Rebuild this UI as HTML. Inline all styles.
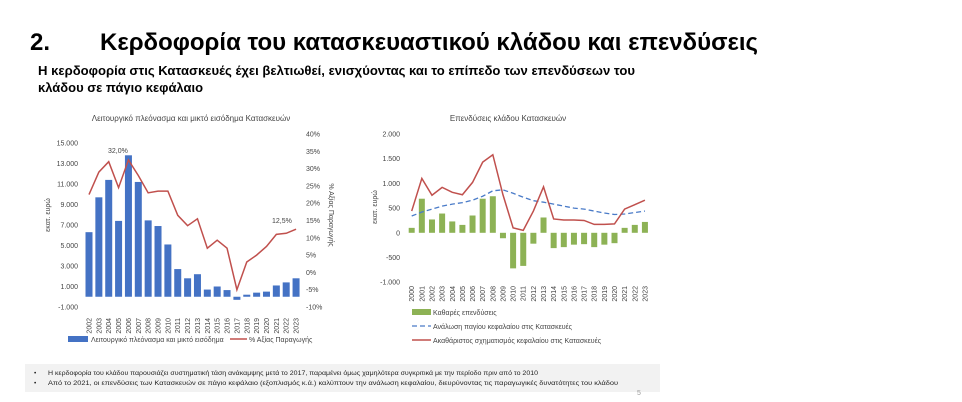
<!DOCTYPE html>
<html><head><meta charset="utf-8"><style>
html,body{margin:0;padding:0;background:#fff;}
svg{display:block;font-family:"Liberation Sans",sans-serif;}
</style></head><body>
<svg id="s" width="962" height="402" xmlns="http://www.w3.org/2000/svg">
<text x="30" y="50" font-size="24" font-weight="bold" fill="#000">2.</text>
<text x="100" y="50" font-size="24" font-weight="bold" fill="#000" textLength="658" lengthAdjust="spacingAndGlyphs">Κερδοφορία του κατασκευαστικού κλάδου και επενδύσεις</text>
<text x="38" y="75" font-size="12.5" font-weight="bold" fill="#000" textLength="597" lengthAdjust="spacingAndGlyphs">Η κερδοφορία στις Κατασκευές έχει βελτιωθεί, ενισχύοντας και το επίπεδο των επενδύσεων του</text>
<text x="38" y="92" font-size="12.5" font-weight="bold" fill="#000" textLength="165" lengthAdjust="spacingAndGlyphs">κλάδου σε πάγιο κεφάλαιο</text>
<text x="191" y="121" font-size="8" fill="#444" text-anchor="middle">Λειτουργικό πλεόνασμα και μικτό εισόδημα Κατασκευών</text>
<text x="508" y="121" font-size="8" fill="#444" text-anchor="middle">Επενδύσεις κλάδου Κατασκευών</text>
<rect x="25" y="364" width="635" height="28" fill="#f2f2f2"/>
<text x="34" y="375" font-size="6.5" fill="#222">•</text>
<text x="48" y="375" font-size="6.5" fill="#222" textLength="490" lengthAdjust="spacingAndGlyphs">Η κερδοφορία του κλάδου παρουσιάζει συστηματική τάση ανάκαμψης μετά το 2017, παραμένει όμως χαμηλότερα συγκριτικά με την περίοδο πριν από το 2010</text>
<text x="34" y="385" font-size="6.5" fill="#222">•</text>
<text x="48" y="385" font-size="6.5" fill="#222" textLength="570" lengthAdjust="spacingAndGlyphs">Από το 2021, οι επενδύσεις των Κατασκευών σε πάγιο κεφάλαιο (εξοπλισμός κ.ά.)  καλύπτουν την ανάλωση κεφαλαίου, διευρύνοντας τις παραγωγικές δυνατότητες του κλάδου</text>
<text x="637" y="395" font-size="7" fill="#999">5</text>
<g id="g"></g>
</svg>
<script>
var g=document.getElementById('g'),h='';
function t(x,y,s,a,extra){h+='<text x="'+x+'" y="'+y+'" font-size="7" fill="#444" text-anchor="'+(a||'start')+'" '+(extra||'')+'>'+s+'</text>';}
function fmt(v){var s=Math.abs(v).toString();if(Math.abs(v)>=1000)s=s.slice(0,-3)+'.'+s.slice(-3);return (v<0?'-':'')+s;}
var yL=function(v){return 143+(15000-v)/2000*20.5;};
var yR=function(p){return 134+(40-p)*3.46;};
for(var v=15000;v>=-1000;v-=2000)t(78,yL(v)+2.5,fmt(v),'end');
for(var p=40;p>=-10;p-=5)t(306,yR(p)+2.5,p+'%');
var b1=[6300,9700,11400,7400,13800,11200,7450,6900,5100,2700,1800,2200,700,1000,650,-300,200,400,500,1100,1400,1800];
var l1=[22.5,29,32,24.5,32.5,28,23,23.5,23.5,16.5,13.5,15.5,7,9.3,7,-5,3,5,7.5,11,11.3,12.5];
var z=yL(0),pts=[];
for(var i=0;i<22;i++){var x=89+i*9.86,y=yL(b1[i]);
h+='<rect x="'+(x-3.5)+'" y="'+Math.min(y,z)+'" width="7" height="'+Math.abs(z-y)+'" fill="#4472c4"/>';
pts.push(x+','+yR(l1[i]));
t(x+2.5,318,2002+i,'end','transform="rotate(-90 '+(x+2.5)+' 318)"');}
h+='<polyline points="'+pts.join(' ')+'" fill="none" stroke="#c0504d" stroke-width="1.5"/>';
t(108,153,'32,0%');t(272,223,'12,5%');
t(50,215,'εκατ. ευρώ','middle','transform="rotate(-90 50 215)"');
t(329,215,'% Αξίας Παραγωγής','middle','transform="rotate(90 329 215)"');
h+='<rect x="68" y="336" width="20" height="6" fill="#4472c4"/>';t(91,342,'Λειτουργικό πλεόνασμα και μικτό εισόδημα');
h+='<line x1="230" y1="339" x2="247" y2="339" stroke="#c0504d" stroke-width="1.5"/>';t(249,342,'% Αξίας Παραγωγής');
var y2=function(v){return 134+(2000-v)/500*24.7;};
for(var v=2000;v>=-1000;v-=500)t(400,y2(v)+2.5,fmt(v),'end');
var nb=[100,690,270,390,230,160,350,690,740,-110,-720,-670,-220,310,-310,-290,-240,-230,-290,-240,-210,100,160,220];
var gr=[440,1100,760,920,820,770,1020,1430,1580,770,100,50,440,930,280,260,260,250,170,170,180,480,570,660];
var dp=[340,420,480,540,580,610,660,740,850,870,800,720,650,620,580,540,500,480,440,400,370,380,410,440];
var z2=y2(0),p1=[],p2=[];
for(var i=0;i<24;i++){var x=411.7+i*10.14,y=y2(nb[i]);
h+='<rect x="'+(x-3)+'" y="'+Math.min(y,z2)+'" width="6" height="'+Math.abs(z2-y)+'" fill="#8db255"/>';
p1.push(x+','+y2(gr[i]));p2.push(x+','+y2(dp[i]));
t(x+2.5,286,2000+i,'end','transform="rotate(-90 '+(x+2.5)+' 286)"');}
h+='<polyline points="'+p2.join(' ')+'" fill="none" stroke="#4a7bc8" stroke-width="1.3" stroke-dasharray="5,3"/>';
h+='<polyline points="'+p1.join(' ')+'" fill="none" stroke="#c0504d" stroke-width="1.5"/>';
t(377,207,'εκατ. ευρώ','middle','transform="rotate(-90 377 207)"');
h+='<rect x="412" y="309" width="19" height="6" fill="#8db255"/>';t(433,315,'Καθαρές επενδύσεις');
h+='<line x1="412" y1="326" x2="431" y2="326" stroke="#4a7bc8" stroke-width="1.3" stroke-dasharray="5,3"/>';t(433,329,'Ανάλωση παγίου κεφαλαίου στις Κατασκευές');
h+='<line x1="412" y1="340" x2="431" y2="340" stroke="#c0504d" stroke-width="1.5"/>';t(433,343,'Ακαθάριστος σχηματισμός κεφαλαίου στις Κατασκευές');
g.innerHTML=h;
</script>
</body></html>
